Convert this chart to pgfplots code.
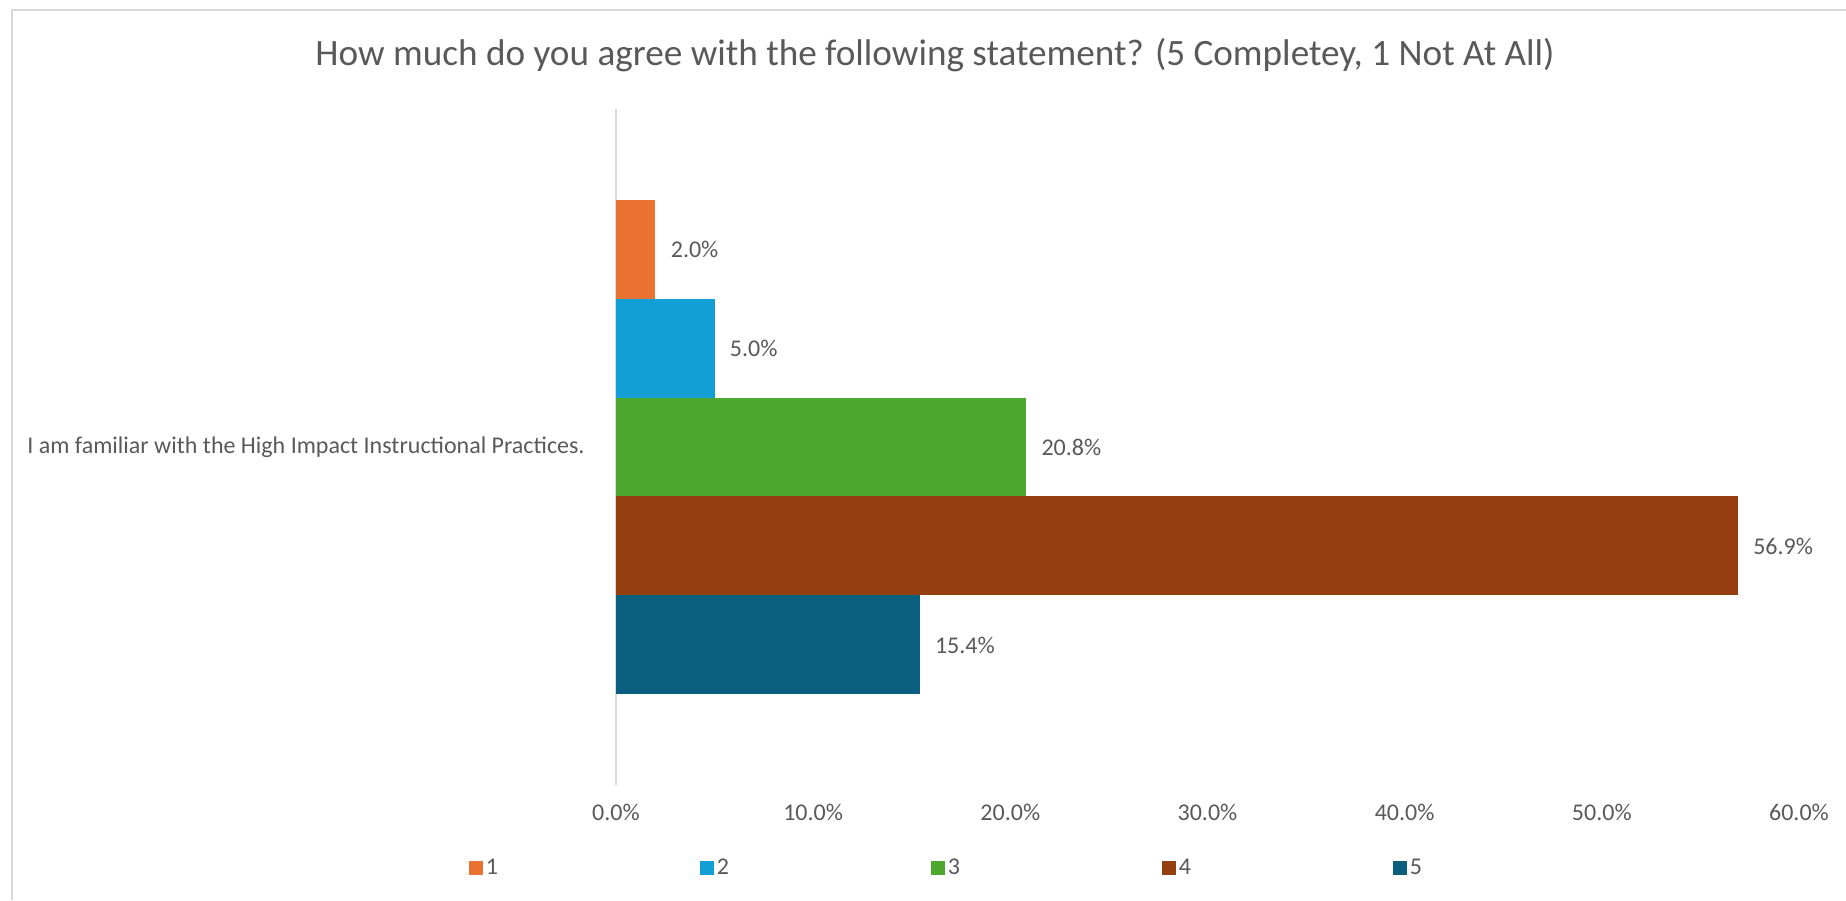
\documentclass[border=0pt]{standalone}
\usepackage{fontspec}
\setmainfont{Carlito}
\usepackage{pgfplots}
\pgfplotsset{compat=1.18}
\definecolor{txt}{HTML}{595959}
\definecolor{gridc}{HTML}{D9D9D9}
\definecolor{cA}{HTML}{E97132}
\definecolor{cB}{HTML}{119FD6}
\definecolor{cC}{HTML}{4EA72F}
\definecolor{cD}{HTML}{953F11}
\definecolor{cE}{HTML}{0A5F7F}
\begin{document}
\begin{tikzpicture}
\useasboundingbox (0,0) rectangle (923pt,450pt);
\draw[gridc, line width=1pt] (6pt,0) -- (6pt,445pt) -- (923pt,445pt);
\node[font=\fontsize{18.6}{22}\selectfont, text=txt] at (467.5pt,422.5pt) {How much do you agree with the following statement? (5 Completey, 1 Not At All)};
\begin{axis}[
  at={(308pt,57.5pt)}, anchor=south west,
  scale only axis, width=591.5pt, height=338pt,
  xbar, bar shift=0pt, bar width=0.1464,
  xmin=0, xmax=60, ymin=-0.5, ymax=0.5,
  xtick={0,10,...,60},
  xticklabel={\pgfmathprintnumber[fixed,fixed zerofill,precision=1]{\tick}\%},
  ytick={0}, yticklabels={I am familiar with the High Impact Instructional Practices.},
  major tick length=0pt,
  axis lines*=left,
  axis line style={-},
  x axis line style={draw=none},
  y axis line style={draw=gridc, line width=1pt},
  ticklabel style={font=\fontsize{12}{14}\selectfont, text=txt},
  /pgf/number format/assume math mode=true,
  xticklabel style={yshift=-6pt},
  yticklabel style={inner sep=0pt, xshift=-15.5pt},
  nodes near coords={\pgfmathprintnumber[fixed,fixed zerofill,precision=1]{\pgfplotspointmeta}\%},
  nodes near coords style={anchor=west, inner sep=0pt, xshift=7.5pt, font=\fontsize{12}{14}\selectfont, text=txt, /pgf/number format/assume math mode=true},
  legend columns=5,
  legend style={draw=none, fill=none, inner sep=0pt, outer sep=0pt, anchor=west, at={(-0.1243,-0.1228)},
    font=\fontsize{12}{14}\selectfont, text=txt,
    nodes={inner sep=1.5pt, text width=105.5pt, align=left}},
  legend image code/.code={\fill[#1] (0pt,-3.5pt) rectangle (7pt,3.5pt);},
]
\addplot[fill=cA, draw=none] coordinates {(2.0,0.2928)};
\addlegendentry{1}
\addplot[fill=cB, draw=none] coordinates {(5.0,0.1464)};
\addlegendentry{2}
\addplot[fill=cC, draw=none] coordinates {(20.8,0)};
\addlegendentry{3}
\addplot[fill=cD, draw=none] coordinates {(56.9,-0.1464)};
\addlegendentry{4}
\addplot[fill=cE, draw=none] coordinates {(15.4,-0.2928)};
\addlegendentry{5}
\end{axis}
\end{tikzpicture}
\end{document}
